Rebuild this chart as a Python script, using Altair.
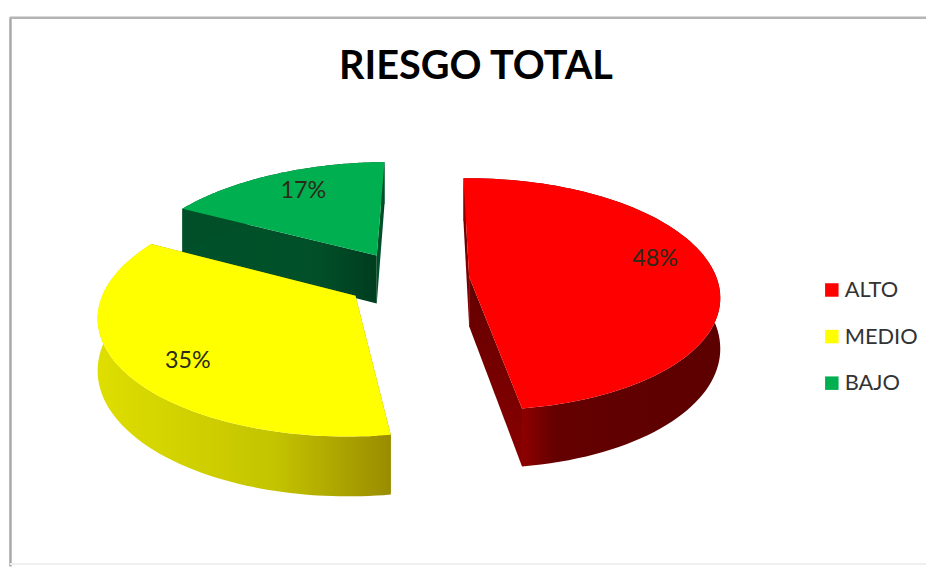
import numpy as np
import pandas as pd
import altair as alt

categories = ["ALTO", "MEDIO", "BAJO"]
shares = [48, 35, 17]
top_colors = ["#ff0000", "#ffff00", "#00b050"]
label_place = [0.46, 0.46, 0.54]
label_reach = [0.79, 0.78, 0.75]
chart_title = "RIESGO TOTAL"

# Tilted-pie projection parameters
START = 359.0
VX, VY, AX, BY, PERSP, EXPLODE, DEPTH, SKEW, BOW = 411.0, 279.0, 250.0, 115.0, 0.15, 0.25, 50.0, 2.5, 3.5


def project(theta_deg, r, mid_deg, z=0.0):
    t, m = np.radians(theta_deg), np.radians(mid_deg)
    px = EXPLODE * np.sin(m) + r * np.sin(t)
    py = EXPLODE * np.cos(m) + r * np.cos(t)
    s = 1.0 / (1.0 + PERSP * py)
    return VX + AX * px * s + SKEW * py + BOW * py * py, VY - BY * py * s + z * s


def poly(points):
    xs = [float(p[0]) for p in points]
    ys = [float(p[1]) for p in points]
    return pd.DataFrame({"x": xs, "y": ys, "i": range(len(xs))})


X = alt.X("x:Q", scale=alt.Scale(domain=[8, 934]), axis=None)
Y = alt.Y("y:Q", scale=alt.Scale(domain=[568, 8]), axis=None)


def shape(points, fill):
    return (
        alt.Chart(poly(points))
        .mark_line(fill=fill, stroke="transparent", strokeWidth=0, interpolate="linear-closed", clip=False)
        .encode(x=X, y=Y, order="i:Q")
    )


def grad(stops, horizontal=True):
    return alt.Gradient(
        gradient="linear",
        stops=[alt.GradientStop(offset=o, color=c) for o, c in stops],
        x1=0, y1=0,
        x2=1 if horizontal else 0,
        y2=0 if horizontal else 1,
    )


ribbon_fills = [
    grad([(0, "#8e0000"), (0.24, "#8a0000"), (0.36, "#640000"), (1, "#5c0000")]),
    grad([(0, "#dede00"), (0.6, "#c4c400"), (1, "#9a8c00")]),
    grad([(0, "#004f28"), (1, "#004f28")]),
]
radial_fills = [
    grad([(0, "#620000"), (1, "#8a0000")], horizontal=False),
    grad([(0, "#9a8c00"), (1, "#9a8c00")]),
    grad([(0, "#00522a"), (0.7, "#004f28"), (1, "#003d20")]),
]

layers = []
angle = START
spans = []
for share in shares:
    sweep = share * 3.6
    spans.append((angle, angle + sweep))
    angle += sweep

for idx in [2, 1, 0]:
    a0, a1 = spans[idx]
    mid = (a0 + a1) / 2
    arc = np.linspace(a0, a1, 90)
    apex_top = project(a0, 0.0, mid)
    apex_bot = project(a0, 0.0, mid, DEPTH)
    for edge in (a0, a1):
        layers.append(shape(
            [apex_top, project(edge, 1.0, mid), project(edge, 1.0, mid, DEPTH), apex_bot],
            radial_fills[idx],
        ))
    ribbon = [project(t, 1.0, mid) for t in arc] + [project(t, 1.0, mid, DEPTH) for t in arc[::-1]]
    layers.append(shape(ribbon, ribbon_fills[idx]))
    layers.append(shape([apex_top] + [project(t, 1.0, mid) for t in arc], top_colors[idx]))

lab_x, lab_y, lab_t = [], [], []
for (a0, a1), place, reach, share in zip(spans, label_place, label_reach, shares):
    mid = (a0 + a1) / 2
    lx, ly = project(a0 + place * (a1 - a0), reach, mid)
    lab_x.append(float(lx))
    lab_y.append(float(ly))
    lab_t.append(f"{share}%")
labels = (
    alt.Chart(pd.DataFrame({"x": lab_x, "y": lab_y, "t": lab_t}))
    .mark_text(font="Lato", fontSize=23.5, color="#2a2a1a", align="center", baseline="middle")
    .encode(x=X, y=Y, text="t:N")
)

legend_layer = (
    alt.Chart(pd.DataFrame({"riesgo": categories, "x": [500.0] * 3, "y": [300.0] * 3}))
    .mark_square(size=0)
    .encode(
        x=X,
        y=Y,
        color=alt.Color(
            "riesgo:N",
            scale=alt.Scale(domain=categories, range=top_colors),
            sort=categories,
            legend=alt.Legend(
                title=None,
                orient="none",
                legendX=820,
                legendY=271,
                symbolType="square",
                symbolSize=185,
                symbolOpacity=1,
                symbolStrokeWidth=0,
                labelFont="Lato",
                labelFontSize=22,
                labelColor="#333333",
                labelOffset=2,
                rowPadding=25,
            ),
        ),
    )
)

frame = [
    alt.Chart(pd.DataFrame({"x": [10.5], "y": [15.0], "y2": [569.0]}))
    .mark_rule(color="#a8a8a8", strokeWidth=2.5)
    .encode(x=X, y=Y, y2="y2:Q"),
    alt.Chart(pd.DataFrame({"x": [10.0], "x2": [934.0], "y": [15.5]}))
    .mark_rule(color="#b4b4b4", strokeWidth=2.5)
    .encode(x=X, x2="x2:Q", y=Y),
    alt.Chart(pd.DataFrame({"x": [10.0], "x2": [934.0], "y": [566.5]}))
    .mark_rule(color="#efefef", strokeWidth=2)
    .encode(x=X, x2="x2:Q", y=Y),
]

title_layer = (
    alt.Chart(pd.DataFrame({"x": [480.0], "y": [65.0], "t": [chart_title]}))
    .mark_text(font="Lato", fontSize=40, fontWeight="bold", color="#000000", align="center", baseline="middle")
    .encode(x=X, y=Y, text="t:N")
)

chart = (
    alt.layer(*frame, *layers, labels, legend_layer, title_layer)
    .properties(width=926, height=560, padding=0, background="white", autosize=alt.AutoSizeParams(type="none"))
    .configure_view(stroke=None)
)

chart.save("out.html", embed_options={"renderer": "svg", "actions": False})
